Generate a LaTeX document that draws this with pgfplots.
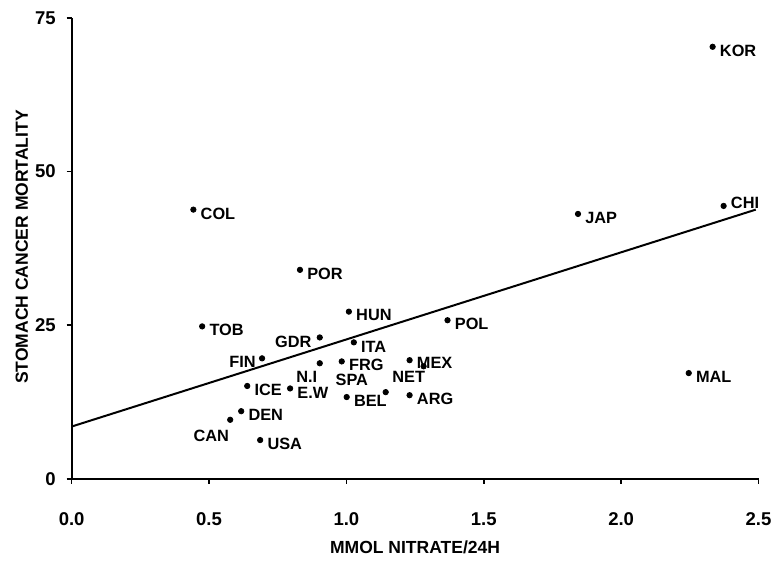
\documentclass[border=0pt]{standalone}
\usepackage{fontspec}
\setmainfont{Liberation Sans}
\usepackage{pgfplots}
\pgfplotsset{compat=1.18}

% dots with a country label; #1 anchor, #2 xshift, #3 yshift
\pgfplotsset{
    country/.style n args={3}{
        only marks, mark=*, mark size=1.35pt, black,
        point meta=explicit symbolic,
        nodes near coords,
        nodes near coords style={anchor=#1, xshift=#2, yshift=#3,
            inner sep=0pt, font=\fontsize{8.2}{10}\selectfont\bfseries},
    },
}

\begin{document}
\begin{tikzpicture}
\begin{axis}[
    scale only axis,
    width=345pt, height=231.5pt,
    xmin=0, xmax=2.5,
    ymin=0, ymax=75,
    axis lines=left,
    axis line style={-, line width=1.1pt},
    tick align=outside,
    major tick length=2.5pt,
    tick style={black, line width=0.8pt},
    xtick={0,0.5,1,1.5,2,2.5},
    ytick={0,25,50,75},
    /pgf/number format/assume math mode=true,
    xticklabel style={/pgf/number format/fixed, /pgf/number format/fixed zerofill,
        /pgf/number format/precision=1, yshift=-11pt},
    yticklabel style={xshift=-2pt},
    tick label style={font=\fontsize{9.3}{11}\selectfont\bfseries},
    label style={font=\fontsize{8.8}{11}\selectfont\bfseries},
    xlabel={MMOL NITRATE/24H},
    ylabel={STOMACH CANCER MORTALITY},
    xlabel style={at={(axis description cs:0.5,-0.149)}, anchor=center},
    ylabel style={at={(axis description cs:-0.0725,0.503)}, anchor=center},
    clip=false,
]
% regression line
\addplot[black, line width=1pt] coordinates {(0,8.5) (2.49,43.8)};

\addplot[country={west}{3.5pt}{-2pt}] coordinates {
    (2.333,70.3) [KOR]
    (1.843,43.1) [JAP]
    (2.246,17.2) [MAL]
    (0.443,43.8) [COL]
    (0.831,34.0) [POR]
    (0.475,24.8) [TOB]
    (1.368,25.8) [POL]
    (1.230,13.6) [ARG]
    (1.001,13.3) [BEL]
    (0.795,14.7) [E.W]
    (0.639,15.1) [ICE]
    (0.617,11.0) [DEN]
    (0.686,6.3)  [USA]
};
\addplot[country={west}{3.5pt}{-1.5pt}] coordinates {
    (1.009,27.2) [HUN]
    (0.983,19.1) [FRG]
    (1.230,19.3) [MEX]
};
\addplot[country={west}{3.5pt}{-2.5pt}] coordinates {(1.027,22.2) [ITA]};
\addplot[country={west}{3.5pt}{1.5pt}] coordinates {(2.373,44.4) [CHI]};
\addplot[country={east}{-4pt}{-2pt}] coordinates {(0.903,23.0) [GDR]};
\addplot[country={east}{-3pt}{-2pt}] coordinates {(0.693,19.6) [FIN]};
\addplot[country={center}{-6.5pt}{-7pt}] coordinates {(0.903,18.8) [N.I]};
\addplot[country={center}{-7.5pt}{-5.5pt}] coordinates {(1.281,18.3) [NET]};
\addplot[country={center}{-17pt}{6pt}] coordinates {(1.143,14.1) [SPA]};
\addplot[country={center}{-9.5pt}{-8pt}] coordinates {(0.577,9.6) [CAN]};

\coordinate (bl) at (rel axis cs:0,0);
\coordinate (tr) at (rel axis cs:1,1);
\end{axis}
\path ([shift={(-36pt,-43pt)}]bl) rectangle ([shift={(8pt,9pt)}]tr);
\end{tikzpicture}
\end{document}
